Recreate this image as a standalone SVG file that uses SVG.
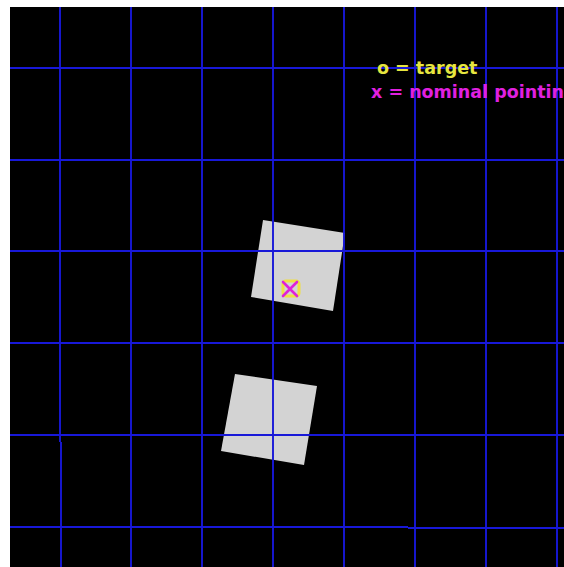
<svg xmlns="http://www.w3.org/2000/svg" width="564" height="567" viewBox="0 0 564 567">
<style>
.grid line{stroke:#1818d8;stroke-width:1.9}
.sq{fill:#d3d3d3}
.lbl{font-family:"DejaVu Sans",sans-serif;font-weight:bold;font-size:17.5px}
</style>
<rect x="0" y="0" width="564" height="567" fill="#ffffff"/>
<rect x="10" y="7" width="554" height="560" fill="#000000"/>
<g id="square-upper"><polygon class="sq" points="263,220 345,233 333,311 251,297"/></g>
<g id="square-lower"><polygon class="sq" points="235,374 317,386 304,465 221,451"/></g>
<g id="grid" class="grid">
<line x1="60" y1="7" x2="60" y2="442"/>
<line x1="61" y1="442" x2="61" y2="567"/>
<line x1="131" y1="7" x2="131" y2="567"/>
<line x1="202" y1="7" x2="202" y2="567"/>
<line x1="273" y1="7" x2="273" y2="567"/>
<line x1="344" y1="7" x2="344" y2="567"/>
<line x1="415" y1="7" x2="415" y2="567"/>
<line x1="486" y1="7" x2="486" y2="567"/>
<line x1="557" y1="7" x2="557" y2="567"/>
<line x1="10" y1="68" x2="564" y2="68"/>
<line x1="10" y1="160" x2="564" y2="160"/>
<line x1="10" y1="251" x2="564" y2="251"/>
<line x1="10" y1="343" x2="564" y2="343"/>
<line x1="10" y1="435" x2="564" y2="435"/>
<line x1="10" y1="527" x2="408" y2="527"/>
<line x1="408" y1="528" x2="564" y2="528"/>
</g>
<g id="marker">
<rect x="283" y="281" width="16" height="15" rx="3" fill="none" stroke="#f0e040" stroke-width="3"/>
<path d="M283,282 L297,296 M297,282 L283,296" stroke="#e020d8" stroke-width="2.6" stroke-linecap="round"/>
</g>
<g id="legend">
<text class="lbl" x="377" y="74" fill="#e6e640">o = target</text>
<text class="lbl" x="371" y="98" fill="#e020e0">x = nominal pointing</text>
</g>
</svg>
